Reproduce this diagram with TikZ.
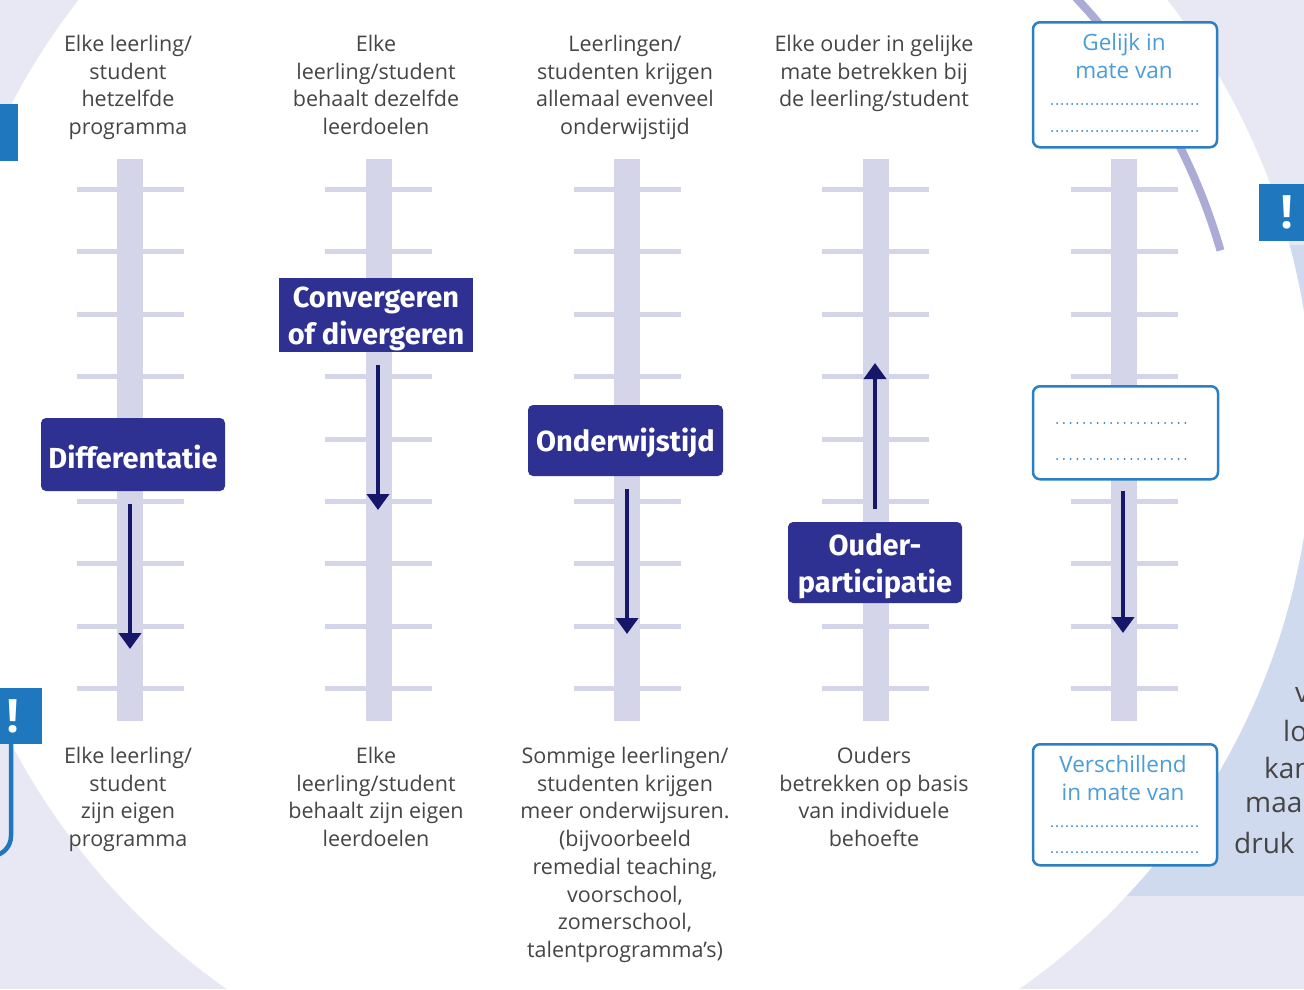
\documentclass[tikz,border=0pt]{standalone}
\usepackage{fontspec}
\setmainfont{Open Sans}
\newfontfamily\labelfont{Fira Sans}
\usetikzlibrary{arrows.meta}
\definecolor{backcol}{HTML}{E8E8F4}
\definecolor{bandcol}{HTML}{D0DAEE}
\definecolor{barcol}{HTML}{D5D5EA}
\definecolor{arccol}{HTML}{ABABD6}
\definecolor{navy}{HTML}{2E3192}
\definecolor{arrowcol}{HTML}{16166A}
\definecolor{tabblue}{HTML}{1F78BE}
\definecolor{lineblue}{HTML}{2B80C4}
\definecolor{textblue}{HTML}{4B9DD8}
\definecolor{textgrey}{HTML}{454545}
\newcommand{\lift}{\rule{0pt}{28.5pt}}

\begin{document}
\begin{tikzpicture}[x=1pt, y=-1pt,
    pillar/.style={barcol, line width=26pt},
    rung/.style={barcol, line width=5pt},
    tag/.style={fill=navy, text=white, rounded corners=5pt, inner sep=0pt, align=center,
        font=\labelfont\bfseries\fontsize{29}{37}\selectfont},
    blank/.style={draw=lineblue, line width=2.5pt, fill=white, rounded corners=7pt,
        inner sep=0pt, minimum width=184pt, anchor=north},
    hint/.style={text=textblue, align=center, inner sep=0pt, font=\fontsize{22.5}{28}\selectfont},
    flow/.style={arrowcol, line width=4pt, -{Triangle[width=22pt,length=16pt]}},
    dots/.style={lineblue, line width=2pt, line cap=round, dash pattern=on 0pt off 5pt},
    say/.style={text=textgrey, align=center, anchor=north, inner sep=0pt,
        font=\fontsize{21.5}{27.7}\selectfont},
    alert/.style={fill=tabblue, text=white, inner sep=0pt, font=\bfseries\fontsize{46}{46}\selectfont}]

\useasboundingbox (0,0) rectangle (1304,989);
\fill[backcol] (0,0) rectangle (1304,989); %background
\fill[bandcol] (1000,245) rectangle (1304,896);
\fill[white] (623,424) circle[radius=690pt];
\begin{scope}
  \clip (623,424) -- (1821,76) -- (1821,-600) -- (623,-600) -- cycle;
  \draw[arccol, line width=8pt] (623,424) circle[radius=622pt];
\end{scope}

% side tabs
\fill[tabblue] (-10,104) rectangle (18,161);
\draw[tabblue, line width=4.5pt, rounded corners=20pt] (11,740) -- (11,856) -- (-40,856);
\node[alert, minimum width=58pt, minimum height=56pt] (warnleft) at (13,716) {!};
\node[alert, minimum width=56pt, minimum height=57pt] (warnright) at (1287,212.5) {!};

% scales
\foreach \cx in {130,378.5,627,875.5,1124} {
  \draw[pillar] (\cx,159) -- (\cx,721);
  \foreach \k in {0,...,8}
    \draw[rung] ({\cx-53.5},{189.5+62.4*\k}) -- ({\cx+53.5},{189.5+62.4*\k});
}

% labels on the scales
\node[tag, minimum width=184pt, minimum height=73pt] (diff) at (133,454.5) {\lift Differentatie};
\node[tag, rounded corners=0pt, minimum width=194pt, minimum height=74pt] (conv) at (376,315) {\lift Convergeren\\of divergeren};
\node[tag, minimum width=195pt, minimum height=71pt] (tijd) at (625.5,440.5) {\lift Onderwijstijd};
\node[tag, minimum width=174pt, minimum height=81pt] (ouder) at (875,562.5) {\lift Ouder-\\participatie};

\node[blank, minimum height=125pt] (same) at (1125,21) {};
\node[hint] (sametxt) at (1124,56) {Gelijk in\\mate van};
\draw[dots] (1052,104) -- (1197,104);
\draw[dots] (1052,131) -- (1197,131);

\node[blank, minimum width=185pt, minimum height=93pt] (open) at (1125.5,385) {};
\draw[dots, dash pattern=on 0pt off 6.75pt] (1057,423) -- (1192,423);
\draw[dots, dash pattern=on 0pt off 6.75pt] (1057,459) -- (1192,459);

\node[blank, minimum height=121pt] (diffr) at (1125,743) {};
\node[hint] (diffrtxt) at (1123,778) {Verschillend\\in mate van};
\draw[dots] (1052,826) -- (1197,826);
\draw[dots] (1052,852) -- (1197,852);

% arrows
\coordinate (diffend) at (130,649);
\coordinate (convend) at (378,510);
\coordinate (tijdend) at (627,634);
\coordinate (ouderend) at (875,363);
\coordinate (openend) at (1123,633);
\draw[flow, shorten <=13pt] (diffend |- diff.south) -- (diffend);
\draw[flow, shorten <=13pt] (convend |- conv.south) -- (convend);
\draw[flow, shorten <=13pt] (tijdend |- tijd.south) -- (tijdend);
\draw[flow, shorten <=13pt] (ouderend |- ouder.north) -- (ouderend);
\draw[flow, shorten <=10pt] (openend |- open.south) -- (openend);

% texts above
\node[say] (top1) at (128,35) {Elke leerling/\\student\\hetzelfde\\programma};
\node[say] (top2) at (376,35) {Elke\\leerling/student\\behaalt dezelfde\\leerdoelen};
\node[say] (top3) at (625,35) {Leerlingen/\\studenten krijgen\\allemaal evenveel\\onderwijstijd};
\node[say] (top4) at (874,35) {Elke ouder in gelijke\\mate betrekken bij\\de leerling/student};

% texts below
\node[say] (bot1) at (128,747) {Elke leerling/\\student\\zijn eigen\\programma};
\node[say] (bot2) at (376,747) {Elke\\leerling/student\\behaalt zijn eigen\\leerdoelen};
\node[say] (bot3) at (625,747) {Sommige leerlingen/\\studenten krijgen\\meer onderwijsuren.\\(bijvoorbeeld\\remedial teaching,\\voorschool,\\zomerschool,\\talentprogramma’s)};
\node[say] (bot4) at (874,747) {Ouders\\betrekken op basis\\van individuele\\behoefte};

% cut-off text at the right
\foreach \tx/\ty/\word [count=\i] in {1295/695/v, 1283/731/lo, 1264/768/kan, 1245/805/maa, 1234/843/druk}
  \node[text=textgrey, anchor=west, inner sep=0pt, font=\fontsize{28}{37}\selectfont] (side\i) at (\tx,\ty) {\word};
\end{tikzpicture}
\end{document}
